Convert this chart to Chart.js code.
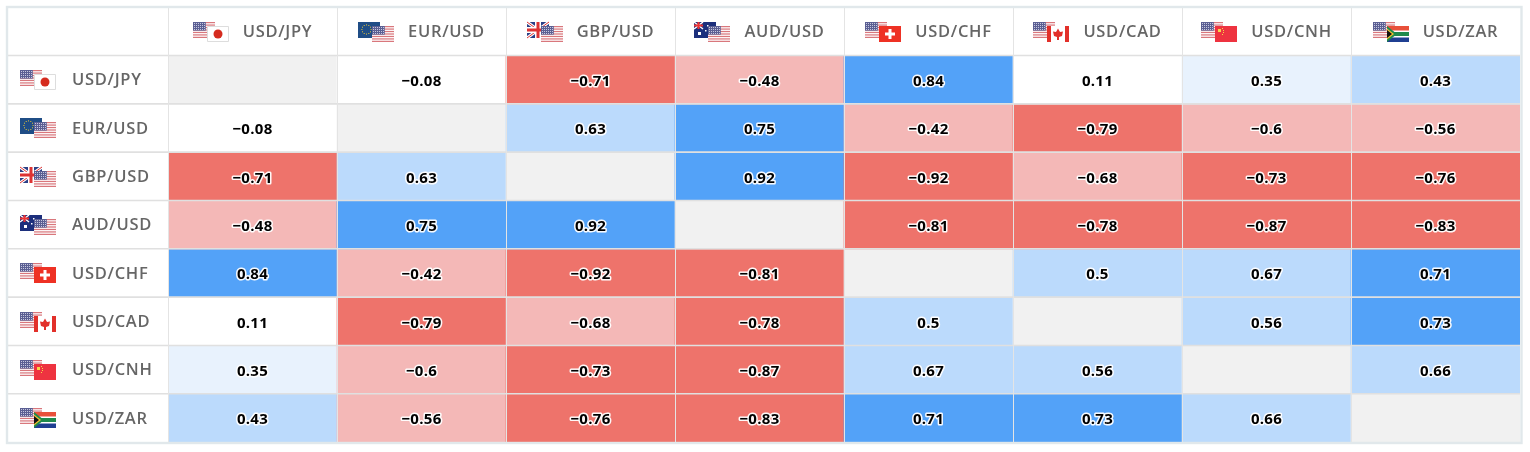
<!DOCTYPE html>
<html><head><meta charset="utf-8">
<style>html,body{margin:0;padding:0;background:#fff}canvas{display:block}</style>
<script src="https://cdn.jsdelivr.net/npm/chart.js@4"></script></head>
<body><canvas id="c" width="1530" height="452"></canvas>
<script>
const pairs = ['USD/JPY','EUR/USD','GBP/USD','AUD/USD','USD/CHF','USD/CAD','USD/CNH','USD/ZAR'];
const rowJPY = [null,-0.08,-0.71,-0.48,0.84,0.11,0.35,0.43];
const rowEUR = [-0.08,null,0.63,0.75,-0.42,-0.79,-0.6,-0.56];
const rowGBP = [-0.71,0.63,null,0.92,-0.92,-0.68,-0.73,-0.76];
const rowAUD = [-0.48,0.75,0.92,null,-0.81,-0.78,-0.87,-0.83];
const rowCHF = [0.84,-0.42,-0.92,-0.81,null,0.5,0.67,0.71];
const rowCAD = [0.11,-0.79,-0.68,-0.78,0.5,null,0.56,0.73];
const rowCNH = [0.35,-0.6,-0.73,-0.87,0.67,0.56,null,0.66];
const rowZAR = [0.43,-0.56,-0.76,-0.83,0.71,0.73,0.66,null];
const matrix = [rowJPY,rowEUR,rowGBP,rowAUD,rowCHF,rowCAD,rowCNH,rowZAR];

function cellColor(v){
  if(v===null) return '#f1f1f1';
  if(v<=-0.7) return '#ee736b';
  if(v<=-0.4) return '#f4b8b7';
  if(v<0.2) return '#ffffff';
  if(v<0.4) return '#e8f2fd';
  if(v<0.7) return '#bbdafc';
  return '#53a2f8';
}
const fmt = v => String(v).replace('-','\u2212');

function usFlag(g,x,y,w,h){
  g.fillStyle='#fff';g.fillRect(x,y,w,h);
  g.fillStyle='#d9777c';
  for(let i=0;i<7;i++) g.fillRect(x,y+i*h/6.5,w,h/13);
  g.fillStyle='#5b5f93';g.fillRect(x,y,w*0.58,h*0.54);
  g.fillStyle='#c5c7de';
  for(let r=0;r<4;r++)for(let c=0;c<6;c++) g.fillRect(x+1+c*2,y+1+r*2,1,1);
}
const flags = {
  USD: usFlag,
  JPY(g,x,y,w,h){g.fillStyle='#fff';g.fillRect(x,y,w,h);g.strokeStyle='#ddd';g.lineWidth=1;g.strokeRect(x+.5,y+.5,w-1,h-1);g.fillStyle='#d52b1e';g.beginPath();g.arc(x+w/2,y+h/2,4.5,0,7);g.fill();},
  EUR(g,x,y,w,h){g.fillStyle='#1f4d86';g.fillRect(x,y,w,h);g.fillStyle='#e8c53a';for(let i=0;i<12;i++){const a=i*Math.PI/6;g.fillRect(x+8+4.6*Math.cos(a),y+7+4.6*Math.sin(a),1,1);}},
  GBP(g,x,y,w,h){g.fillStyle='#2b3f86';g.fillRect(x,y,w,h);g.strokeStyle='#fff';g.lineWidth=3;g.beginPath();g.moveTo(x,y);g.lineTo(x+w,y+h);g.moveTo(x+w,y);g.lineTo(x,y+h);g.stroke();g.strokeStyle='#d33';g.lineWidth=1;g.stroke();g.fillStyle='#fff';g.fillRect(x+w/2-3,y,6,h);g.fillRect(x,y+h/2-3,w,6);g.fillStyle='#d33';g.fillRect(x+w/2-1.5,y,3,h);g.fillRect(x,y+h/2-1.5,w,3);},
  AUD(g,x,y,w,h){g.fillStyle='#1c2f7c';g.fillRect(x,y,w,h);g.strokeStyle='#fff';g.lineWidth=1.5;g.beginPath();g.moveTo(x,y);g.lineTo(x+9,y+7);g.moveTo(x+9,y);g.lineTo(x,y+7);g.stroke();g.fillStyle='#e33';g.fillRect(x+3.5,y,2,7);g.fillRect(x,y+2.5,9,2);g.fillStyle='#fff';g.fillRect(x+4,y+10,3,3);g.fillRect(x+13,y+3,1.5,1.5);g.fillRect(x+11,y+8,1.5,1.5);},
  CHF(g,x,y,w,h){g.fillStyle='#ee3124';g.fillRect(x,y,w,h);g.fillStyle='#fff';g.fillRect(x+w/2-5,y+h/2-1.5,10,3);g.fillRect(x+w/2-1.5,y+h/2-5,3,10);},
  CAD(g,x,y,w,h){g.fillStyle='#fff';g.fillRect(x,y,w,h);g.fillStyle='#e2302a';g.fillRect(x,y,4,h);g.fillRect(x+w-4,y,4,h);g.beginPath();g.moveTo(x+w/2,y+2.5);g.lineTo(x+w/2+2,y+6);g.lineTo(x+w/2+5,y+5.5);g.lineTo(x+w/2+4,y+10);g.lineTo(x+w/2+1,y+11);g.lineTo(x+w/2+1,y+14);g.lineTo(x+w/2-1,y+14);g.lineTo(x+w/2-1,y+11);g.lineTo(x+w/2-4,y+10);g.lineTo(x+w/2-5,y+5.5);g.lineTo(x+w/2-2,y+6);g.closePath();g.fill();},
  CNH(g,x,y,w,h){g.fillStyle='#ee3340';g.fillRect(x,y,w,h);g.fillStyle='#f7d648';g.fillRect(x+3,y+3,3,3);g.fillRect(x+7,y+2,1,1);g.fillRect(x+8,y+4,1,1);g.fillRect(x+8,y+6,1,1);g.fillRect(x+7,y+8,1,1);},
  ZAR(g,x,y,w,h){g.fillStyle='#e8503a';g.fillRect(x,y,w,h/2);g.fillStyle='#1f3f92';g.fillRect(x,y+h/2,w,h/2);g.fillStyle='#fff';g.fillRect(x,y+h/2-3.5,w,7);g.fillStyle='#1f8a4c';g.fillRect(x,y+h/2-2,w,4);g.beginPath();g.moveTo(x,y);g.lineTo(x+10,y+h/2);g.lineTo(x,y+h);g.closePath();g.fill();g.fillStyle='#f2c230';g.beginPath();g.moveTo(x,y+2.5);g.lineTo(x+7,y+h/2);g.lineTo(x,y+h-2.5);g.closePath();g.fill();g.fillStyle='#111';g.beginPath();g.moveTo(x,y+4);g.lineTo(x+5,y+h/2);g.lineTo(x,y+h-4);g.closePath();g.fill();}
};
function drawPair(g,label,x,top){
  const [a,b]=label.split('/');
  flags[a](g,x,top,22,16);
  flags[b](g,x+14,top+4,22,16);
}
const LABEL_FONT='600 16.5px "Open Sans"';
const LABEL_SPACING='0.7px';

const tablePlugin = {
  id:'table',
  beforeDraw(ch){
    const g=ch.ctx;
    g.fillStyle='#fff';g.fillRect(0,0,ch.width,ch.height);
    g.letterSpacing=LABEL_SPACING;
  },
  afterDatasetsDraw(ch){
    const g=ch.ctx, X=ch.scales.x, Y=ch.scales.yLabels, A=ch.chartArea;
    const step=X.getPixelForValue(1)-X.getPixelForValue(0);
    const rowStep=Y.getPixelForValue(1)-Y.getPixelForValue(0);
    g.save();
    g.strokeStyle='#e0e0e0';
    g.lineWidth=1.6;
    for(let i=0;i<8;i++){
      const y=Y.getPixelForValue(i)-rowStep/2;
      g.beginPath();g.moveTo(8,y);g.lineTo(A.right,y);g.stroke();
    }
    g.strokeStyle='#e4e4e4';
    g.lineWidth=1;
    for(let i=0;i<8;i++){
      const x=Math.round(X.getPixelForValue(i)-step/2)+.5;
      g.beginPath();g.moveTo(x,8);g.lineTo(x,A.bottom);g.stroke();
    }
    g.strokeStyle='#e1e8eb';g.lineWidth=2.4;
    g.strokeRect(7,7,1514.5,436);
    g.font='700 15px "Open Sans"';
    g.letterSpacing='0.3px';
    g.textAlign='center';g.textBaseline='middle';
    g.lineJoin='round';
    matrix.forEach((row,r)=>{
      const els=ch.getDatasetMeta(r).data;
      row.forEach((v,c)=>{
        if(v===null) return;
        const p=els[c].getCenterPoint();
        g.strokeStyle='rgba(255,255,255,.95)';g.lineWidth=3;
        g.strokeText(fmt(v),p.x,p.y+2);
        g.fillStyle='#000';g.fillText(fmt(v),p.x,p.y+2);
      });
    });
    g.font=LABEL_FONT;
    g.letterSpacing=LABEL_SPACING;
    pairs.forEach((p,i)=>{
      const cx=X.getPixelForValue(i);
      const w=g.measureText(p).width;
      drawPair(g,p,Math.round(cx+25-w/2-50),22);
      drawPair(g,p,20,Math.round(Y.getPixelForValue(i)-9.5));
    });
    g.restore();
  }
};
new Chart(document.getElementById('c'),{
  type:'bar',
  data:{
    labels:pairs,
    datasets:matrix.map((row,r)=>({
      label:pairs[r],
      data:row.map(()=>[r,r+1]),
      backgroundColor:row.map(cellColor),
      borderWidth:0,
      barPercentage:1,categoryPercentage:1,grouped:false
    }))
  },
  plugins:[tablePlugin],
  options:{
    responsive:false,animation:false,devicePixelRatio:1,
    layout:{padding:{left:72,right:10,top:8,bottom:9.5}},
    plugins:{legend:{display:false},tooltip:{enabled:false},title:{display:false}},
    scales:{
      x:{position:'top',offset:true,grid:{display:false},border:{display:false},
         afterFit(s){s.height=47.5;},
         ticks:{color:'#666',font:{family:'Open Sans',size:16.5,weight:'600'},padding:5,labelOffset:25,maxRotation:0,autoSkip:false}},
      y:{display:false,min:0,max:8,reverse:true},
      yLabels:{type:'category',labels:pairs,position:'left',offset:true,grid:{display:false},border:{display:false},
         afterFit(s){s.width=96;},
         ticks:{color:'#666',font:{family:'Open Sans',size:16.5,weight:'600'},crossAlign:'far',padding:0,labelOffset:1,autoSkip:false}}
    }
  }
});
</script></body></html>
